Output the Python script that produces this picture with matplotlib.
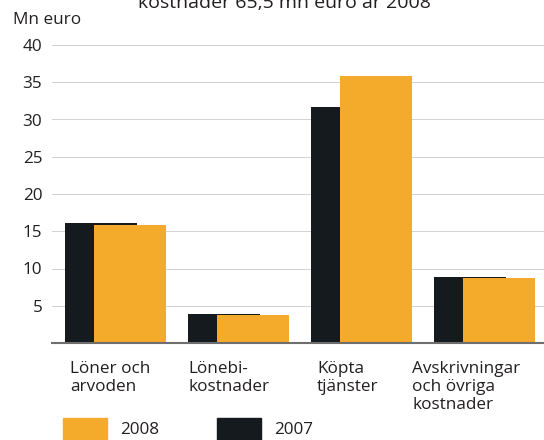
import matplotlib
matplotlib.use("Agg")
import matplotlib.pyplot as plt
from matplotlib.patches import Rectangle

plt.rcParams['font.family'] = ['Open Sans', 'DejaVu Sans']

# Kostnader, mn euro
categories = ["Löner och\narvoden", "Lönebi-\nkostnader", "Köpta\ntjänster",
              "Avskrivningar\noch övriga\nkostnader"]
v2007 = [16.1, 3.9, 31.7, 8.9]
v2008 = [15.9, 3.7, 35.8, 8.7]
yticks = [5, 10, 15, 20, 25, 30, 35, 40]

c2008 = "#F4AA2A"
c2007 = "#141A1D"

fig = plt.figure(figsize=(5.44, 4.40), dpi=100)
ax = fig.add_axes([52/544, 1 - 343/440, 492/544, (343 - 45)/440])

x = list(range(len(categories)))
w = 0.585
off = 0.236
ax.bar(x, v2007, width=w, color=c2007, zorder=2)
ax.bar([i + off for i in x], v2008, width=w, color=c2008, zorder=3)

ax.set_xlim(-0.40, 3.60)
ax.set_ylim(0, 40)
ax.set_yticks(yticks)
ax.set_xticks([])
ax.tick_params(axis='y', length=0, pad=7, labelsize=12.3, labelcolor="#231F20")
ax.yaxis.grid(True, color="#D2D2D2", linewidth=0.7, zorder=0)
ax.set_axisbelow(True)
for s in ["top", "right", "left"]:
    ax.spines[s].set_visible(False)
ax.spines["bottom"].set_color("#6E6E6E")
ax.spines["bottom"].set_linewidth(1.5)
ax.spines["bottom"].set_zorder(4)

# category labels, left aligned under the groups
label_x = [70, 188, 317, 412]
for lx, lab in zip(label_x, categories):
    fig.text(lx/544, 1 - 361/440, lab, ha='left', va='top', fontsize=12.3,
             linespacing=1.17, color="#231F20")

fig.text(13/544, 1 - 20/440, "Mn euro", ha='left', va='center', fontsize=12.3,
         color="#231F20")
# title, cut at the top edge as in the source
fig.text(284/544, 1 - 8/440, "kostnader 65,5 mn euro år 2008", ha='center',
         va='baseline', fontsize=14, color="#231F20")

# legend
leg = [(63, c2008, "2008"), (217, c2007, "2007")]
for lx, col, lab in leg:
    fig.patches.append(Rectangle((lx/544, 0), 44/544, 22/440, transform=fig.transFigure,
                                 color=col, figure=fig))
    fig.text((lx + 57)/544, 1 - 430/440, lab, ha='left', va='center', fontsize=12.3,
             color="#231F20")

fig.savefig("out.png", dpi=100)
